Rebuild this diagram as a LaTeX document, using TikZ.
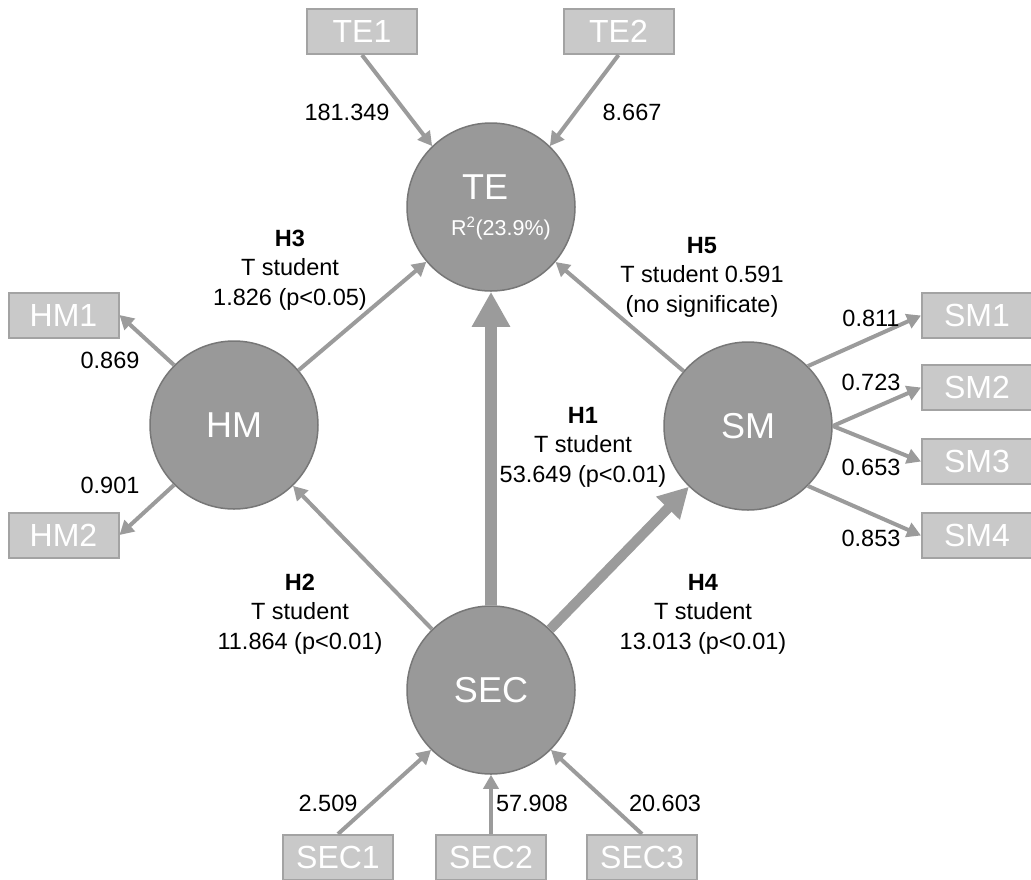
\documentclass[tikz,border=0pt]{standalone}
\usepackage{fontspec}
\setmainfont{Liberation Sans}
\usetikzlibrary{arrows.meta}
\definecolor{circfill}{HTML}{999999}
\definecolor{circline}{HTML}{777777}
\definecolor{boxfill}{HTML}{C9C9C9}
\definecolor{boxline}{HTML}{A3A3A3}
\definecolor{arrcol}{HTML}{9B9B9B}
\begin{document}
\begin{tikzpicture}[x=1pt,y=-1pt,
  latent/.style={circle, minimum size=168pt, inner sep=0pt, fill=circfill, draw=circline, line width=1.5pt, text=white, font=\fontsize{36}{40}\selectfont},
  ind/.style={rectangle, minimum width=110pt, minimum height=45pt, inner sep=0pt, fill=boxfill, draw=boxline, line width=2pt, text=white, font=\fontsize{32}{36}\selectfont},
  thinarr/.style={draw=arrcol, line width=4pt, -{Triangle[length=14pt,width=15pt]}},
  midarr/.style={draw=arrcol, line width=10pt, -{Triangle[length=30pt,width=31pt]}},
  bigarr/.style={draw=arrcol, line width=12pt, -{Triangle[length=35pt,width=36pt]}},
  lab/.style={font=\fontsize{23.5}{29.5}\selectfont, align=center, inner sep=0pt, text=black}
]
\useasboundingbox (0,0) rectangle (1031,879);

% latent variables
\node[latent, align=center] (TE) at (491,207) {\hspace*{-12pt}TE\\[-4pt]{\fontsize{21.5}{25}\selectfont\hspace*{20pt}R\textsuperscript{2}(23.9\%)}};
\node[latent] (HM) at (234,425) {HM};
\node[latent] (SM) at (748,426) {SM};
\node[latent] (SEC) at (491,690) {SEC};

% indicators
\node[ind] (TE1) at (362,31.5) {TE1};
\node[ind] (TE2) at (618.5,31.5) {TE2};
\node[ind] (HM1) at (63.5,315) {HM1};
\node[ind] (HM2) at (63.5,535) {HM2};
\node[ind] (SM1) at (977,315.5) {SM1};
\node[ind] (SM2) at (977,387.5) {SM2};
\node[ind] (SM3) at (977,461.5) {SM3};
\node[ind] (SM4) at (977,535.5) {SM4};
\node[ind] (SEC1) at (338,857.5) {SEC1};
\node[ind] (SEC2) at (491,857.5) {SEC2};
\node[ind] (SEC3) at (642,857.5) {SEC3};

% structural paths
\draw[thinarr] (HM) -- (TE);
\draw[thinarr] (SM) -- (TE);
\draw[thinarr] (SEC) -- (HM);
\draw[midarr] (SEC) -- (SM);
\draw[bigarr] (SEC) -- (TE);

% measurement paths
\draw[thinarr] (TE1.south) -- (TE.134);
\draw[thinarr] (TE2.south) -- (TE.46);
\draw[thinarr] (HM.135) -- (HM1.east);
\draw[thinarr] (HM.225) -- (HM2.east);
\draw[thinarr] (SM.45) -- (SM1.west);
\draw[thinarr] (SM.0) -- (SM2.west);
\draw[thinarr] (SM.0) -- (SM3.west);
\draw[thinarr] (SM.315) -- (SM4.west);
\draw[thinarr] (SEC1.north) -- (SEC.225);
\draw[thinarr] (SEC2.north) -- (SEC.south);
\draw[thinarr] (SEC3.north) -- (SEC.315);

% loading labels
\node[lab] (l1) at (347,112) {181.349};
\node[lab] (l2) at (632,112) {8.667};
\node[lab] (l3) at (110,360) {0.869};
\node[lab] (l4) at (110,485) {0.901};
\node[lab] (l5) at (871,318) {0.811};
\node[lab] (l6) at (871,382) {0.723};
\node[lab] (l7) at (871,467) {0.653};
\node[lab] (l8) at (871,538) {0.853};
\node[lab] (l9) at (328,803) {2.509};
\node[lab] (l10) at (532,803) {57.908};
\node[lab] (l11) at (665,803) {20.603};

% hypothesis labels
\node[lab] (h3) at (290,270) {\textbf{H3}\\T student\\1.826 (p<0.05)};
\node[lab] (h5) at (702,277) {\textbf{H5}\\T student 0.591\\ (no significate)};
\node[lab] (h1) at (583,447) {\textbf{H1}\\T student\\53.649 (p<0.01)};
\node[lab] (h2) at (300,614) {\textbf{H2}\\T student\\11.864 (p<0.01)};
\node[lab] (h4) at (703,614) {\textbf{H4}\\T student\\13.013 (p<0.01)};
\end{tikzpicture}
\end{document}
